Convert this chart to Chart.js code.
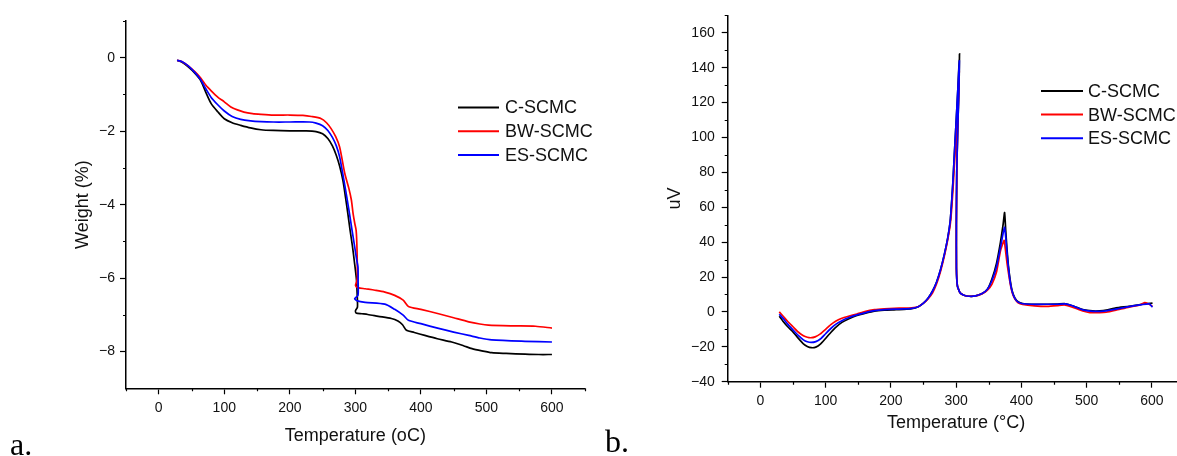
<!DOCTYPE html>
<html><head><meta charset="utf-8">
<script src="https://cdn.jsdelivr.net/npm/chart.js@4.4.1/dist/chart.umd.min.js"></script>
<style>
html,body{margin:0;padding:0;background:#fff;overflow:hidden;width:1177px;height:456px;position:relative}
canvas{position:absolute;top:0}
.lab{position:absolute;font-family:"Liberation Serif","DejaVu Serif",serif;font-size:32px;color:#000;line-height:1}
</style></head><body>
<canvas id="ca" width="600" height="456" style="left:0"></canvas>
<canvas id="cb" width="600" height="456" style="left:600px"></canvas>
<div class="lab" style="left:10px;top:428px">a.</div>
<div class="lab" style="left:605px;top:425px">b.</div>
<script>
// ---------- data: (a) TGA ----------
const seriesNames = ['C-SCMC', 'BW-SCMC', 'ES-SCMC'];
const seriesColors = ['#000000', '#ff0000', '#0000ff'];

const tgaT_C = [28,35,45,55,64,72,80,90,100,112,125,140,156,175,200,225,240,250,258,265,271,276,281,285,288.5,292,295.5,298.5,301.8,302.8,303.2,300.3,301,310,319,335,355,365,372,378,390,406,425,447,465,478,493,508,530,559,580,600];
const tgaC = [-0.07,-0.12,-0.25,-0.42,-0.62,-0.95,-1.25,-1.47,-1.66,-1.77,-1.84,-1.91,-1.96,-1.98,-1.99,-1.99,-2.01,-2.07,-2.2,-2.4,-2.66,-2.95,-3.34,-3.8,-4.24,-4.7,-5.12,-5.55,-6.06,-6.45,-6.79,-6.88,-6.95,-6.97,-6.99,-7.04,-7.1,-7.17,-7.27,-7.42,-7.48,-7.56,-7.65,-7.74,-7.84,-7.92,-7.98,-8.03,-8.05,-8.07,-8.08,-8.08];

const tgaT_BW = [28,35,45,55,64,72,80,90,100,110,120,130,143,156,175,200,220,233,248,256,263,270,276,284,290,294,296.5,299,301.2,302.5,303,302,300.3,304,315,330,345,360,373,381,400,427,450,473,490,503,540,575,600];
const tgaBW = [-0.07,-0.1,-0.22,-0.38,-0.55,-0.75,-0.9,-1.07,-1.2,-1.34,-1.42,-1.48,-1.52,-1.54,-1.56,-1.56,-1.57,-1.6,-1.66,-1.77,-1.93,-2.15,-2.43,-3.16,-3.55,-3.88,-4.24,-4.5,-4.7,-5.2,-5.97,-6.1,-6.2,-6.26,-6.29,-6.33,-6.38,-6.47,-6.6,-6.77,-6.85,-6.97,-7.08,-7.19,-7.25,-7.28,-7.3,-7.31,-7.36];

const tgaT_ES = [28,35,45,55,64,72,80,90,100,112,125,140,156,175,200,230,240,250,258,265,271,276,282.6,287,291,295,299,302,304,304.2,304,299,303,315,345,360,373,381,400,427,450,473,490,508,559,600];
const tgaES = [-0.07,-0.1,-0.22,-0.4,-0.6,-0.85,-1.08,-1.28,-1.45,-1.6,-1.68,-1.72,-1.74,-1.75,-1.75,-1.75,-1.78,-1.85,-1.98,-2.17,-2.4,-2.7,-3.34,-3.8,-4.24,-4.7,-5.15,-5.5,-5.7,-6.1,-6.47,-6.56,-6.62,-6.66,-6.71,-6.85,-7.01,-7.15,-7.24,-7.37,-7.47,-7.56,-7.63,-7.68,-7.72,-7.74];

// ---------- data: (b) DTA ----------
const dtaT_C = [29,35,42,50,58,66,72,78,85,92,100,108,116,125,135,148,160,175,190,205,220,232,242,250,257,264,270,276,282,287,291,293,295.2,298,300.5,303,305.2,304.5,302.5,301,300.4,300.5,302,306,312,320,330,340,348,355,362,368,372,374.3,376,378,380,383,386,390,395,402,415,440,455,466,476,485,494,509,520,530,545,565,585,601];
const dtaC = [-2.5,-5.5,-8.5,-11.4,-15,-18.3,-19.8,-20.5,-20.2,-18.5,-15.2,-11.8,-8.7,-6,-4,-2,-0.8,0.5,1,1.2,1.4,1.8,3,5,7.8,12,17,24,33,42,52,62,75,95,112,130,148,130,105,80,50,25,15,11,9.6,9,9.2,10.5,13,19,28,40,50,57,47,36,27,18,12,8,5.8,4.8,4.4,4.4,4.5,4.8,3.8,2.6,1.4,0.6,0.6,1,2.3,3.2,4.4,5.1];

const dtaT_BW = [29,35,42,50,58,66,72,77,84,92,100,108,116,125,135,148,160,175,190,205,220,232,242,250,257,264,270,276,282,287,291,293,295.2,298,300.5,303,304.8,303.5,302,301,300.4,300.5,302,306,312,320,330,340,348,355,362,368,373.5,375.5,378,380,383,386,390,395,402,420,440,455,466,476,485,494,505,520,530,545,565,580,589,595,601];
const dtaBW = [0,-2.5,-5.5,-8.5,-11.5,-13.6,-14.5,-14.8,-14.3,-12.6,-10,-7.3,-5.2,-3.6,-2.5,-1.2,0.2,1.3,1.8,2.1,2.2,2.4,3,5,7.5,11,16,23,32,41,50,58,70,88,105,122,138,120,100,78,50,25,15,11,9.6,9,9.2,10.5,12.5,16,23,35,41,36,28,23,16,11,7.5,5.3,4.3,3.5,3.2,3.6,4,3,1.8,0.5,-0.4,-0.4,-0.2,1,2.8,3.8,5.3,4.5,3.2];

const dtaT_ES = [29,35,42,50,58,66,72,78,85,92,100,108,116,125,135,148,160,175,190,205,220,232,242,250,257,264,270,276,282,287,291,293,295.2,298,300.5,303,305,304.3,302.5,301,300.4,300.5,302,306,312,320,330,340,348,355,362,368,372,374.3,376,378,380,383,386,390,395,402,415,440,455,468,476,485,494,510,530,545,565,585,596,601];
const dtaES = [-1.3,-3.8,-7,-10.3,-13.5,-16,-17.1,-17.5,-17,-15.5,-12.5,-9.5,-7,-5,-3.3,-1.7,-0.5,0.7,1.3,1.6,1.7,2,3,5,7.8,12,17,24,33,42,52,62,75,95,112,130,144,128,105,80,50,25,15,11,9.6,9,9.2,10.5,13,18,26,37,45,48.5,43,34,26,17,11.5,7.8,5.6,4.7,4.4,4.4,4.4,4.6,3.8,2.5,1.2,0.3,0.6,1.6,3,4.2,4.6,2.7];

// ---------- ticks ----------
const tempTicks = [0,100,200,300,400,500,600];
const tempMinor = [-50,50,150,250,350,450,550,650];
const weightTicks = [0,-2,-4,-6,-8];
const weightMinor = [1,-1,-3,-5,-7];
const uvTicks = [-40,-20,0,20,40,60,80,100,120,140,160];
const uvMinor = [-30,-10,10,30,50,70,90,110,130,150,170];

// ---------- helpers ----------
const SANS = '"Liberation Sans", Arial, sans-serif';
const TXT = '#111';
const fmt = v => String(v).replace('-', '\u2212');
const pts = (xs, ys) => xs.map((x, i) => ({x, y: ys[i]}));

const minorTicks = {
  id: 'minorTicks',
  afterDraw(chart, args, o) {
    const ctx = chart.ctx, xs = chart.scales.x, ys = chart.scales.y;
    ctx.save();
    ctx.strokeStyle = '#000'; ctx.lineWidth = 1.2;
    ctx.beginPath();
    o.xMinor.forEach(v => { const p = Math.round(xs.getPixelForValue(v)) + 0.5; ctx.moveTo(p, xs.top); ctx.lineTo(p, xs.top + o.len); });
    o.yMinor.forEach(v => { const p = Math.round(ys.getPixelForValue(v)) + 0.5; ctx.moveTo(ys.right, p); ctx.lineTo(ys.right - o.len, p); });
    ctx.stroke();
    ctx.restore();
  }
};
const lineLegend = {
  id: 'lineLegend',
  afterDraw(chart, args, o) {
    const ctx = chart.ctx;
    ctx.save();
    ctx.font = '18px ' + SANS;
    ctx.textBaseline = 'middle';
    chart.data.datasets.forEach((ds, i) => {
      const y = o.y0 + i * o.dy;
      ctx.strokeStyle = ds.borderColor; ctx.lineWidth = 2;
      ctx.beginPath(); ctx.moveTo(o.x1, y); ctx.lineTo(o.x2, y); ctx.stroke();
      ctx.fillStyle = TXT; ctx.fillText(ds.label, o.tx, y + 1);
    });
    ctx.restore();
  }
};

function makeChart(id, sets, cfg) {
  const datasets = sets.map((s, i) => ({
    label: seriesNames[i], data: pts(s[0], s[1]),
    borderColor: seriesColors[i], backgroundColor: seriesColors[i],
    borderWidth: 1.7, pointRadius: 0, tension: cfg.tension, fill: false,
    order: [2, 1, 0][i]
  }));
  const axisCommon = {
    border: {display: true, color: '#000', width: 1.5},
    grid: {display: true, drawOnChartArea: false, drawTicks: true, tickLength: 6, tickWidth: 1.2, tickColor: '#000'},
  };
  return new Chart(document.getElementById(id), {
    type: 'line',
    data: {datasets},
    options: {
      responsive: false, animation: false, events: [],
      layout: {padding: cfg.pad},
      plugins: {legend: {display: false}, tooltip: {enabled: false},
        minorTicks: {xMinor: tempMinor, yMinor: cfg.yMinor, len: 3},
        lineLegend: cfg.legend},
      scales: {
        x: Object.assign({}, axisCommon, {
          type: 'linear', min: -50, max: 650,
          afterBuildTicks: s => { s.ticks = tempTicks.map(v => ({value: v})); },
          afterFit: s => { s.height = cfg.xH; },
          ticks: {font: {size: 14, family: SANS}, color: TXT, padding: cfg.xPad, maxRotation: 0, callback: v => fmt(v)},
          title: {display: true, text: cfg.xTitle, font: {size: 18, family: SANS}, color: TXT, padding: 0}
        }),
        y: Object.assign({}, axisCommon, {
          type: 'linear', min: cfg.yMin, max: cfg.yMax,
          afterBuildTicks: s => { s.ticks = cfg.yTicks.map(v => ({value: v})); },
          afterFit: s => { s.width = cfg.yW; },
          ticks: {font: {size: 14, family: SANS}, color: TXT, padding: cfg.yPad, callback: v => fmt(v)},
          title: {display: true, text: cfg.yTitle, font: {size: 18, family: SANS}, color: TXT, padding: 0}
        })
      }
    },
    plugins: [minorTicks, lineLegend]
  });
}

makeChart('ca', [[tgaT_C, tgaC], [tgaT_BW, tgaBW], [tgaT_ES, tgaES]], {
  tension: 0.25,
  pad: {left: 72, top: 21, right: 15.3, bottom: 9},
  xH: 58.7, yW: 54, xPad: 5, yPad: 5,
  yMin: -9, yMax: 1, yTicks: weightTicks, yMinor: weightMinor,
  xTitle: 'Temperature (oC)', yTitle: 'Weight (%)',
  legend: {x1: 458, x2: 499, tx: 505, y0: 107.5, dy: 23.8}
});

makeChart('cb', [[dtaT_C, dtaC], [dtaT_BW, dtaBW], [dtaT_ES, dtaES]], {
  tension: 0.15,
  pad: {left: 64.7, top: 13.3, right: 15.5, bottom: 22.2},
  xH: 52.1, yW: 63, xPad: 5, yPad: 7,
  yMin: -40, yMax: 170, yTicks: uvTicks, yMinor: uvMinor,
  xTitle: 'Temperature (\u00B0C)', yTitle: 'uV',
  legend: {x1: 441, x2: 483, tx: 488, y0: 91, dy: 23.6}
});
</script>
</body></html>
